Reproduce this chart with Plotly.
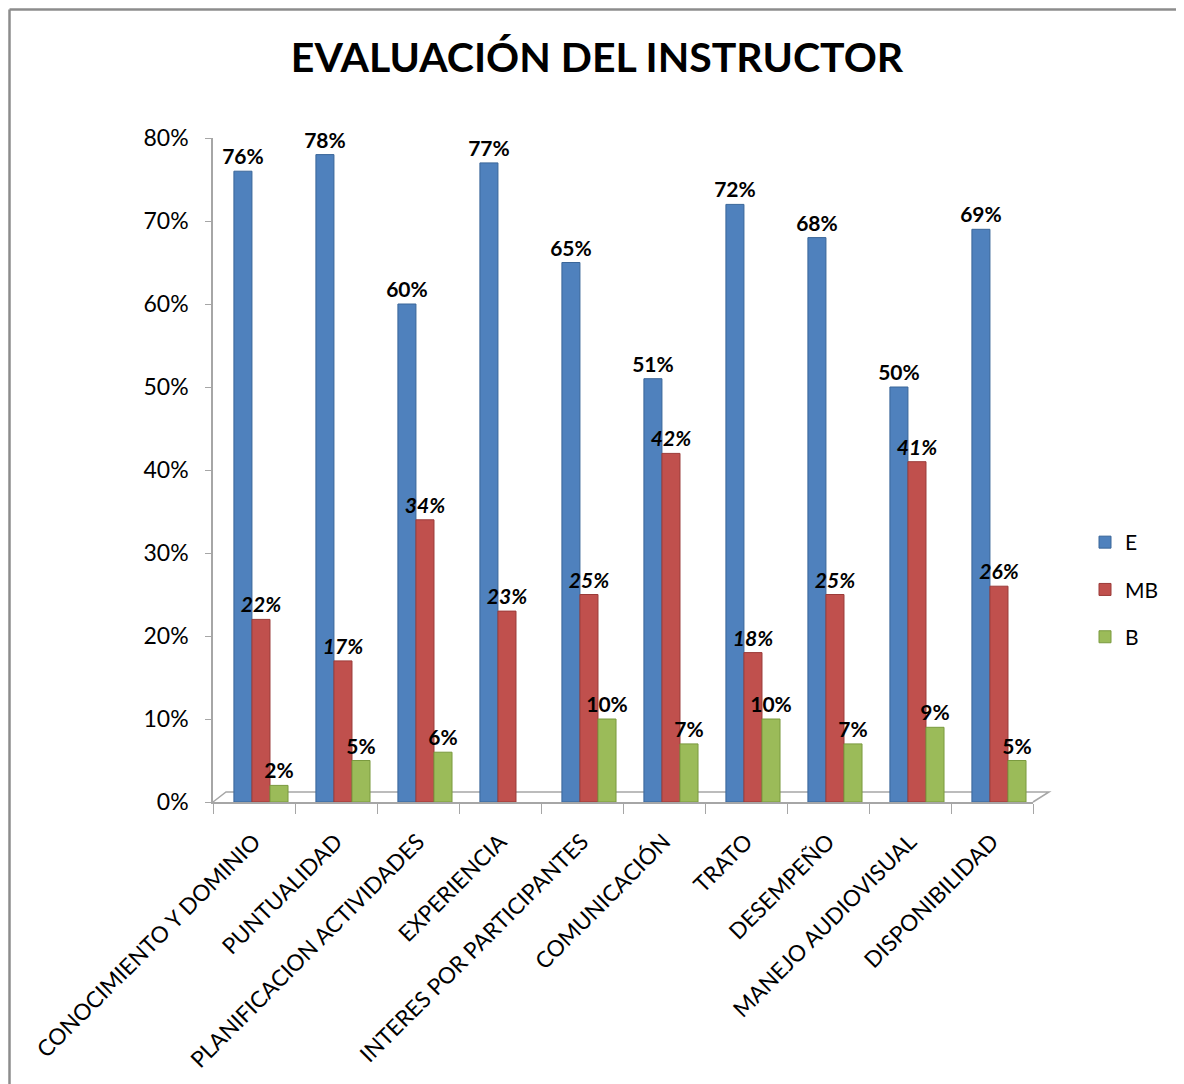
import plotly.graph_objects as go

categories = ["CONOCIMIENTO Y DOMINIO", "PUNTUALIDAD", "PLANIFICACION ACTIVIDADES",
              "EXPERIENCIA", "INTERES POR PARTICIPANTES", "COMUNICACIÓN", "TRATO",
              "DESEMPEÑO", "MANEJO AUDIOVISUAL", "DISPONIBILIDAD"]
e_vals = [76, 78, 60, 77, 65, 51, 72, 68, 50, 69]
mb_vals = [22, 17, 34, 23, 25, 42, 18, 25, 41, 26]
b_vals = [2, 5, 6, None, 10, 7, 10, 7, 9, 5]
y_ticks = [0, 10, 20, 30, 40, 50, 60, 70, 80]
y_tick_labels = [f"{v}%" for v in y_ticks]

# page body has an 8px margin; figure coords = screen coords - 8
OFF = 8
W, H = 1184 - OFF, 1084 - OFF
L, T = 213 - OFF, 138 - OFF
PW, PH = 820, 664
R, B = W - L - PW, H - T - PH

def px(x):  # x in screen coords -> paper
    return (x - OFF - L) / PW

def py(y):  # y in screen coords -> paper
    return (H - B - (y - OFF)) / PH

FONT = "Lato"

fig = go.Figure()
series = [
    ("E", e_vals, "#4F81BD", "#3A6699", -0.245, "normal"),
    ("MB", mb_vals, "#C0504D", "#9B3B39", -0.025, "italic"),
    ("B", b_vals, "#9BBB59", "#7A9A3F", 0.195, "normal"),
]
for name, vals, col, edge, off, style in series:
    fig.add_trace(go.Bar(
        name=name, x=categories, y=vals,
        width=0.22, offset=off,
        marker=dict(color=col, line=dict(color=edge, width=1)),
        text=[f"{v}%" if v is not None else "" for v in vals],
        textposition="outside",
        constraintext="none",
        textfont=dict(family=FONT, size=21, color="black", weight="bold", style=style),
        cliponaxis=False,
        legendgroup=name,
    ))

BX, BY = OFF + 1.5, OFF + 1.5  # border just inside figure edge
shapes = [
    # chart border (left & top)
    dict(type="line", xref="paper", yref="paper", x0=px(BX), x1=px(1190), y0=py(BY), y1=py(BY),
         line=dict(color="#8C8C8C", width=2.5)),
    dict(type="line", xref="paper", yref="paper", x0=px(BX), x1=px(BX), y0=py(BY), y1=py(1090),
         line=dict(color="#8C8C8C", width=2.5)),
    # 3D floor outline
    dict(type="path", xref="paper", yref="paper",
         path=f"M {px(213)} {py(802)} L {px(226)} {py(792)} L {px(1049)} {py(792)} L {px(1033)} {py(802)}",
         line=dict(color="#A6A6A6", width=1.5), layer="below"),
]

fig.update_layout(
    width=W, height=H,
    margin=dict(l=L, r=R, t=T, b=B, autoexpand=False),
    paper_bgcolor="white", plot_bgcolor="white",
    title=dict(text="<b>EVALUACIÓN DEL INSTRUCTOR</b>", x=(597 - OFF) / W, xref="container", xanchor="center",
               y=1 - (58 - OFF) / H, yref="container", yanchor="middle",
               font=dict(family=FONT, size=41, color="black")),
    barmode="group",
    showlegend=True,
    legend=dict(x=px(1085), xanchor="left", y=py(522), yanchor="top",
                font=dict(family=FONT, size=21, color="black"),
                tracegroupgap=17, traceorder="grouped",
                itemwidth=30, bgcolor="rgba(0,0,0,0)"),
    xaxis=dict(
        type="category", range=[-0.5, 9.5], automargin=False,
        tickangle=-45, tickfont=dict(family=FONT, size=22.5, color="black"),
        showline=True, linecolor="#A6A6A6", linewidth=1.5,
        ticks="outside", tickson="boundaries", ticklen=10, tickcolor="#A6A6A6",
        showgrid=False, zeroline=False, ticklabelstandoff=16,
    ),
    yaxis=dict(
        range=[0, 80], tickvals=y_ticks, ticktext=y_tick_labels, automargin=False,
        tickfont=dict(family=FONT, size=23, color="black"),
        showline=True, linecolor="#A6A6A6", linewidth=1.5,
        ticks="outside", ticklen=6, tickcolor="#A6A6A6",
        showgrid=False, zeroline=False, ticklabelstandoff=12,
    ),
    shapes=shapes,
    bargap=0.3,
)

fig.write_html("out.html")
